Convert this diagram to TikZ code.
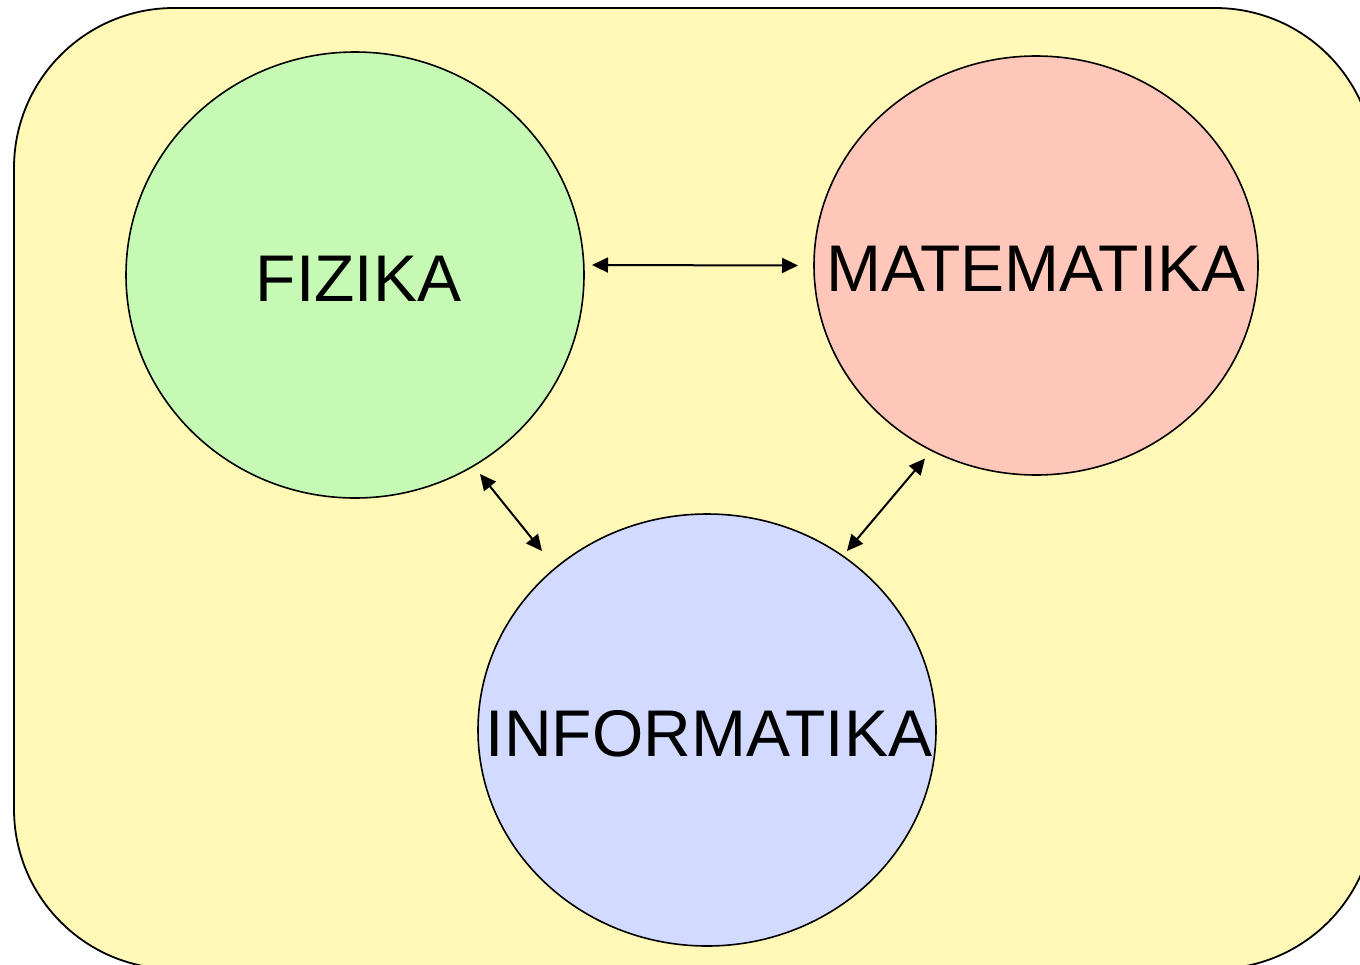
\documentclass[tikz,border=0pt]{standalone}
\usepackage{fontspec}
\setmainfont{Liberation Sans}
\usetikzlibrary{shapes.geometric,arrows.meta,calc}
\definecolor{bgyellow}{HTML}{FFF8B6}
\definecolor{fgreen}{HTML}{C6FAB4}
\definecolor{mpink}{HTML}{FFC6BA}
\definecolor{iblue}{HTML}{D2DAFF}
\newcommand{\zw}[1]{\makebox[0pt][c]{#1}}
\tikzset{
  subject/.style={ellipse, draw=black, line width=1.6pt, inner sep=0pt,
    font=\fontsize{66}{70}\selectfont, text height=52pt, text depth=0pt},
  arr/.style={{Triangle[length=16pt,width=15pt]}-{Triangle[length=16pt,width=15pt]}, line width=2pt}
}
\begin{document}
\begin{tikzpicture}[x=1pt,y=-1pt]
\useasboundingbox (0,0) rectangle (1360,964);
\clip (0,0) rectangle (1360,964);
\draw[fill=bgyellow, line width=1.8pt, rounded corners=160pt] (14,8) rectangle (1375,969);
\node[subject, fill=fgreen, minimum width=458pt, minimum height=446pt] (f) at (355,275) {\zw{\hspace*{7pt}FIZIKA}};
\node[subject, fill=mpink, minimum width=444pt, minimum height=419pt] (m) at (1036,265.5) {\zw{MATEMATIKA}};
\node[subject, fill=iblue, minimum width=458pt, minimum height=432pt] (i) at (707,730) {\zw{\hspace*{4pt}INFORMATIKA}};
\draw[arr] ($(f.center)+(237,-10)$) -- ($(m.center)+(-238,0)$);
\draw[arr] ($(f.center)+(125,199)$) -- ($(i.center)+(-165,-179)$);
\draw[arr] ($(m.center)+(-111,193)$) -- ($(i.center)+(140,-179)$);
\end{tikzpicture}
\end{document}
